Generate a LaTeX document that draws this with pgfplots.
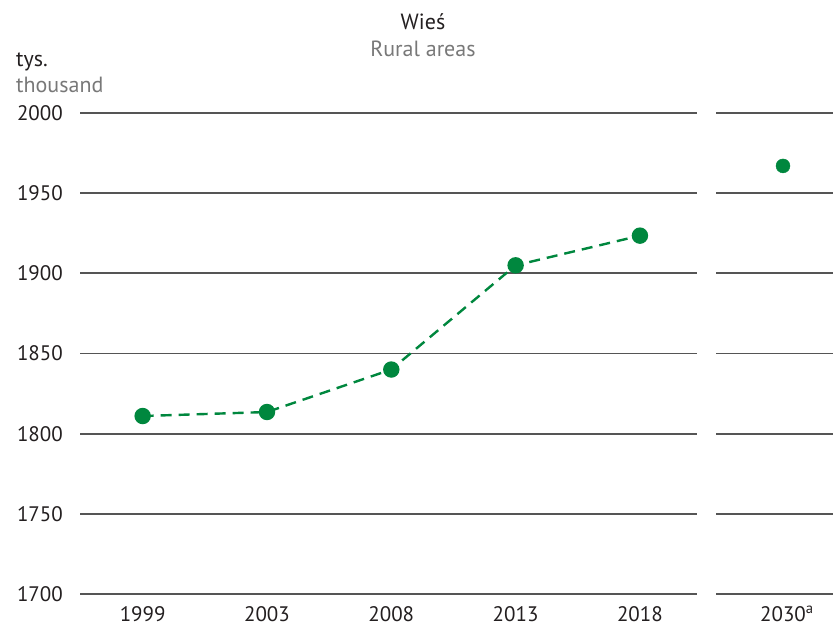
\documentclass[border=0pt]{standalone}
\usepackage{fontspec}
\setmainfont{PT Sans}
\usepackage{pgfplots}
\pgfplotsset{compat=1.18}
\definecolor{grn}{RGB}{0,135,62}
\definecolor{gridc}{RGB}{85,85,85}
\definecolor{txtg}{RGB}{120,120,120}
\definecolor{txtd}{RGB}{35,31,32}
\begin{document}
\begin{tikzpicture}
\useasboundingbox (0pt,0pt) rectangle (833pt,625pt);
\pgfplotsset{panel/.style={
  scale only axis, height=481pt, ymin=1700, ymax=2000, ytick={1700,1750,...,2000},
  axis line style={draw=none}, major tick length=0pt, ymajorgrids,
  grid style={gridc, line width=1.8pt},
  tick label style={font=\fontsize{21}{24}\selectfont, text=txtd},
  xticklabel style={anchor=base, inner sep=0pt, yshift=-27pt},
  clip=false, anchor=south west,
  /pgf/number format/assume math mode=true, /pgf/number format/1000 sep={},
}}
\begin{axis}[panel, at={(80pt,31pt)}, width=617pt, xmin=-0.504, xmax=4.459,
  xtick={0,...,4}, xticklabels={1999,2003,2008,2013,2018},
  yticklabel style={anchor=east, inner sep=0pt, xshift=-17pt}]
\addplot[grn, line width=2.4pt, dash pattern=on 11pt off 7pt, mark=*, mark size=7pt, mark options={solid}] coordinates {(0,1811) (1,1813.5) (2,1840) (3,1905) (4,1923.5)};
\end{axis}
\begin{axis}[panel, at={(716pt,31pt)}, width=117pt, xmin=-67, xmax=50, xtick={0}, xticklabels={2030\rlap{\textsuperscript{a}}}, yticklabels={}]
\addplot[grn, only marks, mark=*, mark size=7pt] coordinates {(0,1967)};
\end{axis}
\node[anchor=base, inner sep=0pt, font=\fontsize{22}{26}\selectfont, text=txtd] at (423pt,595pt) {Wieś};
\node[anchor=base, inner sep=0pt, font=\fontsize{22}{26}\selectfont, text=txtg] at (423pt,568pt) {Rural areas};
\node[anchor=base west, inner sep=0pt, font=\fontsize{22}{26}\selectfont, text=txtd] at (16pt,558pt) {tys.};
\node[anchor=base west, inner sep=0pt, font=\fontsize{22}{26}\selectfont, text=txtg] at (16pt,532pt) {thousand};
\end{tikzpicture}
\end{document}
